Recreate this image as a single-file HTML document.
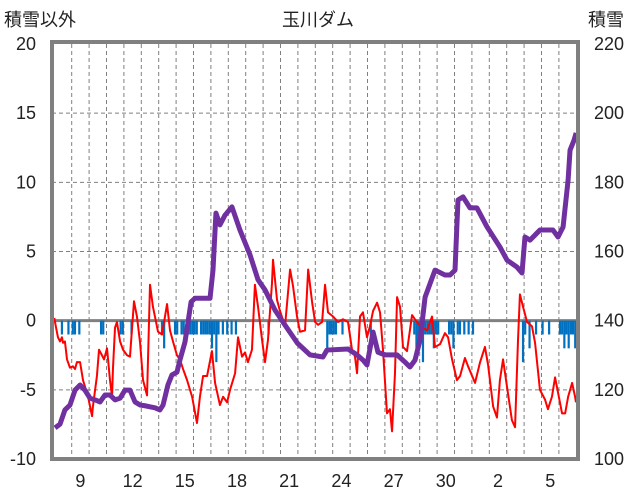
<!DOCTYPE html>
<html><head><meta charset="utf-8"><style>
body{margin:0;background:#fff;}
svg{display:block;font-family:"Liberation Sans","Noto Sans CJK JP",sans-serif;}
</style></head><body>
<svg id="chart" width="636" height="501" viewBox="0 0 636 501" xmlns="http://www.w3.org/2000/svg">
<text x="4" y="26" font-size="18" fill="#222">積雪以外</text>
<text x="318" y="26" font-size="18" fill="#222" text-anchor="middle">玉川ダム</text>
<text x="588" y="26" font-size="18" fill="#222">積雪</text>
<g id="grid"></g>
<g id="bars"></g>
<g id="lines"></g>
<g id="axes"></g>
</svg>
<script>
const leftTicks=[20,15,10,5,0,-5,-10];
const rightTicks=[220,200,180,160,140,120,100];
const xLabels=["9","12","15","18","21","24","27","30","2","5"];
const xLabelDays=[1,4,7,10,13,16,19,22,25,28];
const redT=[0,0.1,0.21,0.33,0.44,0.5,0.61,0.73,0.9,1.07,1.19,1.3,1.48,1.65,1.94,2.17,2.22,2.45,2.57,2.74,2.86,3.03,3.2,3.32,3.37,3.49,3.6,3.78,3.95,4.18,4.35,4.58,4.75,4.93,5.1,5.33,5.5,5.67,5.96,6.19,6.48,6.65,6.82,7.05,7.22,7.4,7.63,7.92,8.2,8.37,8.55,8.78,9.06,9.24,9.52,9.7,9.93,10.1,10.27,10.39,10.56,10.79,10.96,11.13,11.36,11.53,11.71,11.94,12.11,12.28,12.51,12.57,12.8,12.97,13.26,13.55,13.72,13.95,14.12,14.41,14.59,14.82,14.99,15.16,15.39,15.56,15.73,16.02,16.31,16.59,16.88,17.11,17.28,17.4,17.57,17.74,17.97,18.14,18.32,18.55,18.72,18.89,19.12,19.29,19.41,19.58,19.7,19.87,20.04,20.27,20.56,20.73,21.02,21.42,21.71,21.88,22.17,22.45,22.63,22.86,23.14,23.32,23.6,23.78,24.18,24.47,24.75,24.93,25.22,25.44,25.61,25.79,26.02,26.3,26.48,26.65,26.76,26.94,27.17,27.45,27.63,27.91,28.2,28.37,28.6,28.78,28.95,29.18,29.36,29.53,29.76,29.93,29.98];
const redV=[0.2,-0.5,-1.2,-1.5,-1.2,-1.6,-1.5,-2.8,-3.4,-3.3,-3.5,-3.0,-3.0,-4.3,-5.5,-6.9,-6.2,-4.0,-2.1,-2.5,-2.8,-2.0,-4.3,-5.5,-3.5,-0.5,-0.1,-1.5,-2.1,-2.5,-2.6,1.4,0.3,-1.6,-4.3,-5.4,2.6,1.0,-0.8,-1.0,1.2,-0.7,-1.5,-2.5,-2.8,-3.5,-4.3,-5.5,-7.4,-5.5,-4.0,-4.0,-2.2,-4.5,-6.1,-5.5,-5.9,-5.0,-4.3,-3.8,-1.2,-2.6,-2.3,-3.0,-2.1,2.6,1.0,-1.4,-3.0,-1.4,2.7,4.4,1.5,0.7,-0.4,3.7,2.5,0.3,-0.8,-0.7,3.7,1.3,-0.1,-0.3,-0.1,2.6,0.6,0.3,-0.1,0.1,-0.1,-2.1,-2.6,-3.8,0.3,0.6,-1.2,-0.4,0.7,1.3,0.6,-2.1,-6.7,-6.4,-8.0,-3.8,1.7,1.0,-1.9,-2.2,0.4,0.1,-0.4,-0.7,0.3,-1.9,-1.7,-0.9,-1.2,-2.8,-4.3,-4.0,-2.7,-3.3,-4.5,-3.0,-1.9,-3.2,-6.2,-7.0,-4.3,-2.8,-4.8,-7.2,-7.7,-1.4,1.9,1.0,-0.1,-0.4,-1.6,-5.0,-5.7,-6.4,-5.5,-4.1,-5.2,-6.7,-6.7,-5.5,-4.5,-5.5,-5.9];
const snowT=[0.04,0.33,0.61,0.9,1.19,1.48,1.76,2.05,2.34,2.63,2.91,3.2,3.49,3.78,4.06,4.35,4.64,4.93,5.21,5.5,5.79,6.07,6.25,6.53,6.76,7.05,7.22,7.51,7.86,8.09,8.37,8.95,9.12,9.29,9.52,9.81,10.21,10.67,11.25,11.71,12.11,12.68,13.26,13.97,14.7,15.44,15.67,16.88,17.4,17.74,17.97,18.32,18.6,19.0,19.7,20.16,20.44,20.73,21.02,21.31,21.88,22.45,22.74,23.03,23.2,23.49,23.89,24.29,24.87,25.61,26.02,26.59,26.88,27.05,27.34,27.91,28.66,28.95,29.24,29.53,29.64,29.87,29.99];
const snowV=[109.0,110.1,114.2,115.6,119.9,121.4,119.9,117.6,117.1,116.5,118.5,118.5,117.1,117.6,119.9,119.9,116.5,115.6,115.4,115.1,114.8,114.2,115.6,121.4,124.3,125.1,128.6,133.8,145.4,146.5,146.5,146.5,154.6,171.1,167.7,170.5,172.9,166.2,159.0,151.8,148.9,143.1,138.7,133.5,130.1,129.5,131.5,131.8,130.1,128.6,127.2,136.7,130.9,130.1,130.1,128.0,126.6,128.6,134.4,146.8,154.6,153.2,153.2,154.6,174.9,175.8,172.6,172.6,167.1,161.3,157.5,155.5,153.8,164.2,163.3,166.2,166.2,164.2,167.1,180.7,189.3,192.2,194.3];
const barT=[0.375,0.75,1.0,1.125,1.375,2.625,2.75,3.75,3.875,4.375,6.125,6.25,6.875,7.0,7.25,7.375,7.625,7.75,7.875,8.0,8.125,8.375,8.5,8.625,8.75,8.875,9.0,9.125,9.25,9.375,9.625,9.875,10.125,10.375,12.25,15.625,15.75,15.875,16.0,16.125,16.5,18.125,20.625,20.75,20.875,21.0,21.125,21.25,21.375,21.5,21.625,21.75,21.875,22.0,22.625,22.75,22.875,23.125,23.25,23.5,23.75,24.0,26.875,27.0,27.25,27.625,28.0,28.375,29.0,29.125,29.25,29.375,29.5,29.625,29.75,29.875];
const barV=[-1,-1,-1,-1,-1,-1,-1,-1,-1,-1,-1,-2,-1,-1,-1,-1,-1,-1,-1,-1,-1,-1,-1,-1,-1,-1,-2,-1,-3,-1,-1,-1,-1,-1,-1,-2,-1,-1,-1,-1,-1,-1,-1,-2,-2,-1,-3,-1,-1,-1,-1,-2,-1,-1,-1,-1,-2,-1,-1,-1,-1,-1,-3,-1,-2,-1,-1,-1,-1,-1,-2,-1,-2,-1,-1,-2];

const NS="http://www.w3.org/2000/svg";
const X0=54.3,DAY=17.4,YT=44,YB=459,PL=52,PR=578;
const xS=t=>X0+t*DAY;
const yL=v=>YT+(20-v)*(YB-YT)/30;
const yR=v=>YT+(220-v)*(YB-YT)/120;
function mk(tag,attrs,parent){const e=document.createElementNS(NS,tag);for(const k in attrs)e.setAttribute(k,attrs[k]);parent.appendChild(e);return e;}
const grid=document.getElementById('grid'),bars=document.getElementById('bars'),lines=document.getElementById('lines'),axes=document.getElementById('axes');
for(let k=1;k<30;k++){const x=xS(k);
const l=mk('line',{x1:x,x2:x,y1:YT,y2:YB,stroke:'#808080','stroke-width':1,'stroke-dasharray':'4,3'},grid);

}
leftTicks.forEach(v=>{if(v===20||v===-10||v===0)return;
const l=mk('line',{x1:PL,x2:PR,y1:yL(v),y2:yL(v),stroke:'#808080','stroke-width':1,'stroke-dasharray':'4,3'},grid);

});
barT.forEach((t,i)=>{const y0=yL(0),y1=yL(barV[i]);
const r=mk('rect',{x:xS(t),y:y0,width:2.2,height:y1-y0,fill:'#0070c0'},bars);

});
const zl=mk('line',{x1:PL,x2:PR,y1:yL(0),y2:yL(0),stroke:'#808080','stroke-width':3},grid);


const rp=mk('polyline',{points:redT.map((t,i)=>xS(t)+','+yL(redV[i])).join(' '),fill:'none',stroke:'#ff0000','stroke-width':2,'stroke-linejoin':'round'},lines);


const sp=mk('polyline',{points:snowT.map((t,i)=>xS(t)+','+yR(snowV[i])).join(' '),fill:'none',stroke:'#7030a0','stroke-width':5,'stroke-linejoin':'round'},lines);


const fr=mk('rect',{x:PL,y:YT-2,width:PR-PL,height:YB-YT+2,fill:'none',stroke:'#808080','stroke-width':4},axes);


leftTicks.forEach(v=>{const t=mk('text',{x:36,y:yL(v)+6,'font-size':18,'text-anchor':'end',fill:'#222'},axes);t.textContent=v;

});
rightTicks.forEach(v=>{const t=mk('text',{x:594,y:yR(v)+6,'font-size':18,fill:'#222'},axes);t.textContent=v;

});
xLabels.forEach((s,i)=>{const t=mk('text',{x:xS(xLabelDays[i]+0.5),y:487,'font-size':18,'text-anchor':'middle',fill:'#222'},axes);t.textContent=s;

});
</script>
</body></html>
